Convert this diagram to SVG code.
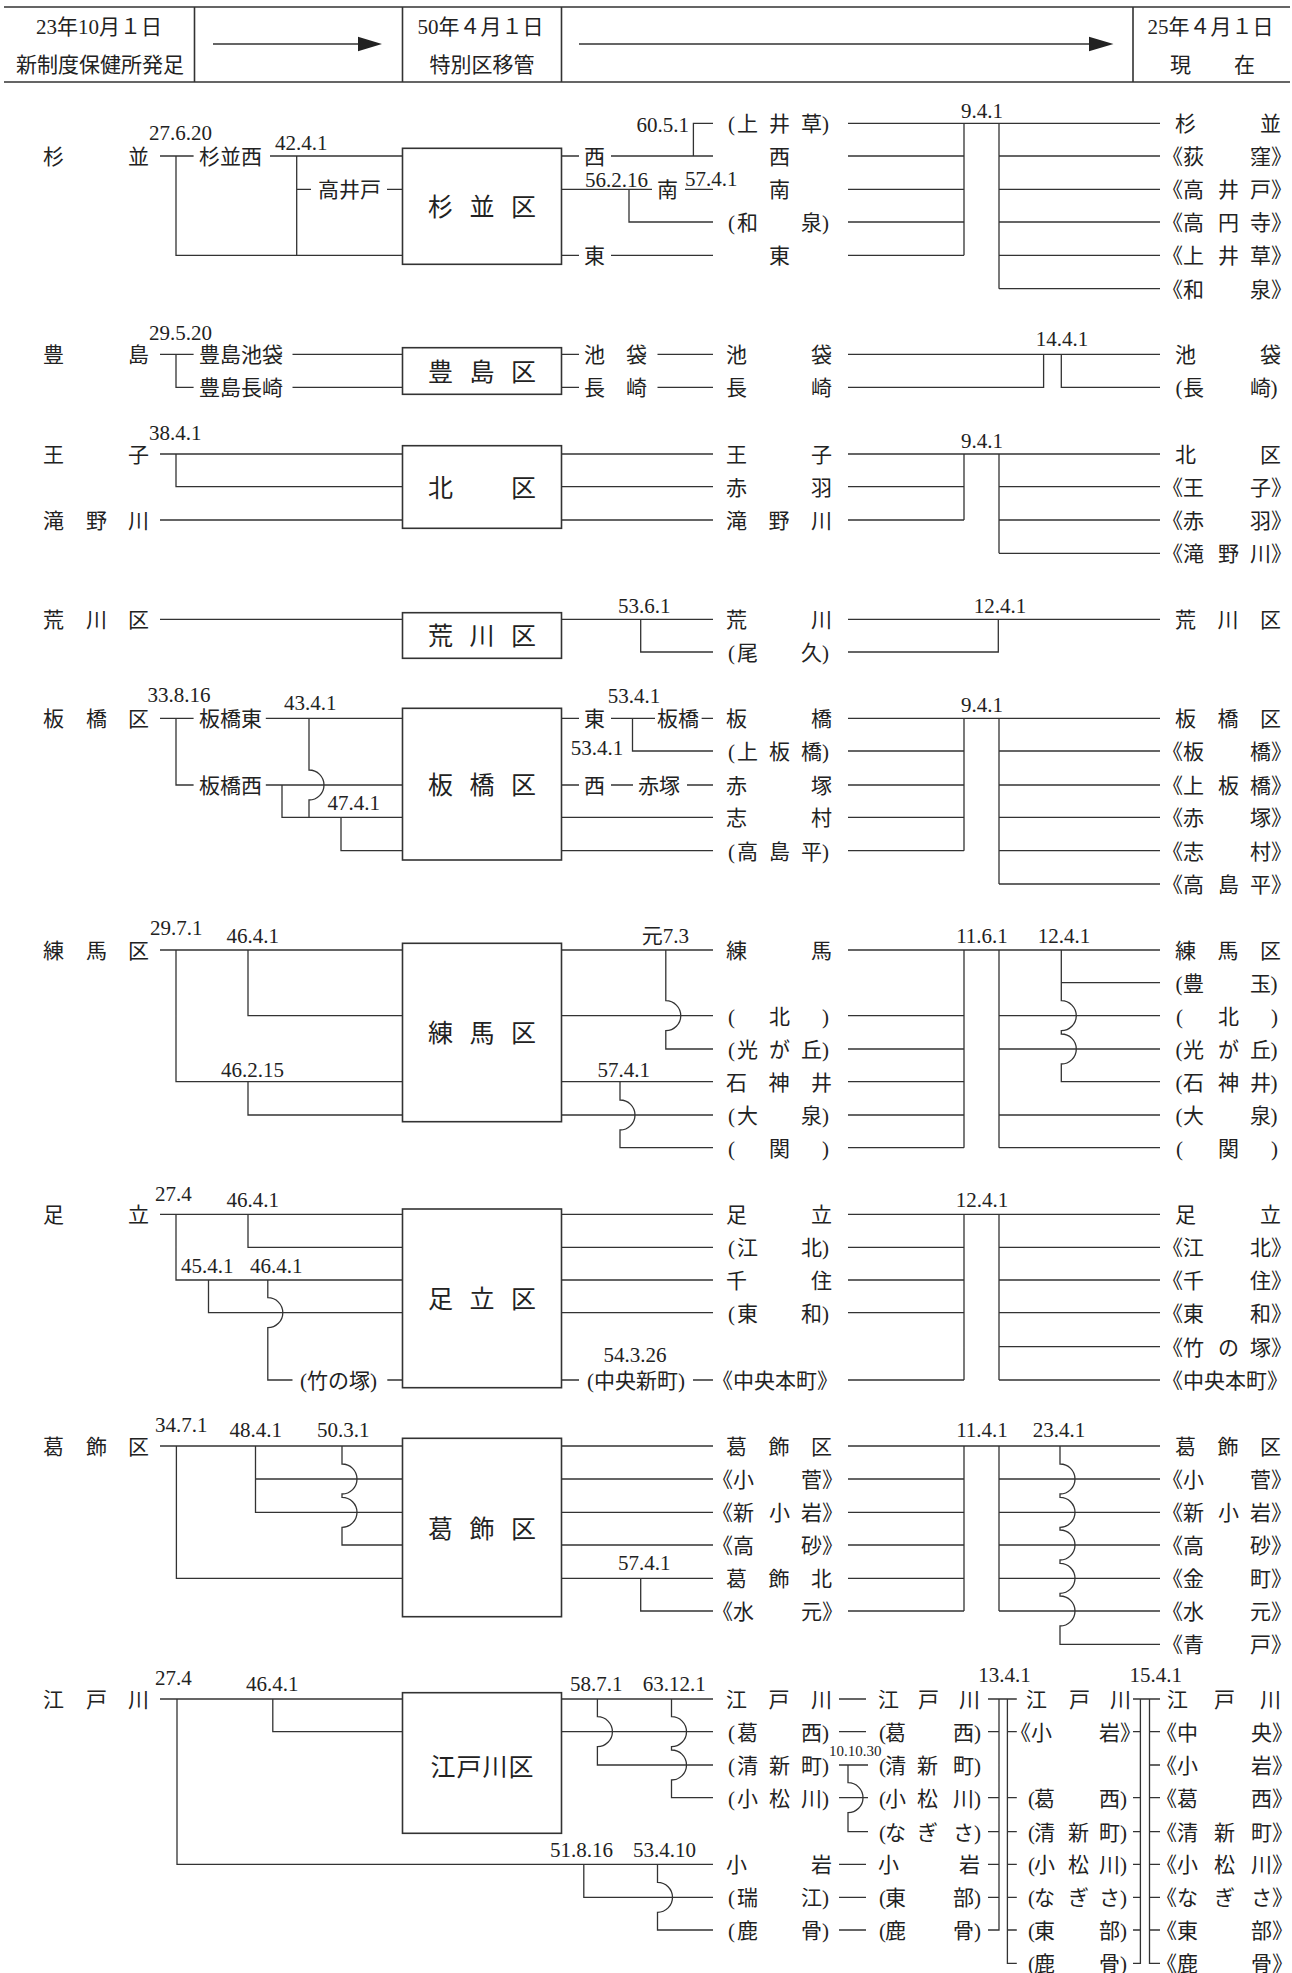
<svg xmlns="http://www.w3.org/2000/svg" width="1292" height="1973" viewBox="0 0 1292 1973">
<style>
text{font-family:'Liberation Serif','Noto Sans CJK JP',serif;font-size:21px;fill:#222}
.b{font-family:'Noto Sans CJK JP',sans-serif;font-size:25px}
.s{font-size:15px}
.c{text-anchor:middle}
.e{text-anchor:end}
.ln{fill:none;stroke:#333;stroke-width:1.3}
.bx{fill:#fff;stroke:#333;stroke-width:1.6}
.hd{fill:none;stroke:#333;stroke-width:1.6}
</style>
<rect width="1292" height="1973" fill="#fff"/>
<g id="header">
<path class="hd" d="M4,7H1290M4,82H1290M194.5,7V82M402.5,7V82M561.5,7V82M1133,7V82"/>
<path class="ln" d="M213,44H360M579,44H1091"/>
<path d="M358,36.8L382,44L358,51.2ZM1089,36.8L1113.5,44L1089,51.2Z" fill="#222"/>
<text class="c" x="99" y="34">23年10月１日</text>
<text class="c" x="100" y="72">新制度保健所発足</text>
<text class="c" x="480.5" y="34">50年４月１日</text>
<text class="c" x="482" y="72">特別区移管</text>
<text class="c" x="1210.5" y="34">25年４月１日</text>
<text y="72"><tspan x="1170">現</tspan><tspan x="1234">在</tspan></text>
</g>
<g id="connectors" class="ln">
<path d="M160,156H193.6M176,156V255.3H402.5M270,156H402.5M296.7,156V255.3M296.7,189.3H311M387,189.3H402.5M561.5,156H579M611,156H713M693.4,156V123.3H713M561.5,189.3H652M685,189.3H713M629,189.3V222H713M561.5,255.3H579M611,255.3H713M848,123.3H1160M848,156H964M848,189.3H964M848,222H964M848,255.3H964M964,123.3V255.3M999,123.3V288.7M999,156H1160M999,189.3H1160M999,222H1160M999,255.3H1160M999,288.7H1160"/>
<path d="M160,354.3H193.6M176,354.3V387.3H193.6M292.5,354.3H402.5M292.5,387.3H402.5M561.5,354.3H579M657.5,354.3H713M561.5,387.3H579M657.5,387.3H713M848,354.3H1160M848,387.3H1043.6V354.3M1061.3,354.3V387.3H1160"/>
<path d="M160,454H402.5M176,454V486.7H402.5M160,520H402.5M561.5,454H713M561.5,486.7H713M561.5,520H713M848,454H1160M848,486.7H964M848,520H964M964,454V520M999,454V553.3M999,486.7H1160M999,520H1160M999,553.3H1160"/>
<path d="M160,619.3H402.5M561.5,619.3H713M640.7,619.3V652H713M848,619.3H1160M848,652H998.3V619.3"/>
<path d="M160,718.3H193.6M176,718.3V785H193.6M265.8,718.3H402.5M265.8,785H402.5M309,718.3V770A15,15 0 0 1 309,800V817.3M282,785V817.3H402.5M341,817.3V850.7H402.5M561.5,718.3H579M611,718.3H655M701.6,718.3H713M632.5,718.3V751H713M561.5,785H579M611,785H633M687,785H713M561.5,817.3H713M561.5,850.7H713M848,718.3H1160M848,751H964M848,785H964M848,817.3H964M848,850.7H964M964,718.3V850.7M999,718.3V884M999,751H1160M999,785H1160M999,817.3H1160M999,850.7H1160M999,884H1160"/>
<path d="M160,950H402.5M176,950V1081.7H402.5M248,950V1015.7H402.5M248,1081.7V1115H402.5M561.5,950H713M665.8,950V1000.7A15,15 0 0 1 665.8,1030.7V1049H713M561.5,1015.7H713M561.5,1081.7H713M620,1081.7V1100A15,15 0 0 1 620,1130V1147.7H713M561.5,1115H713M848,950H1160M848,1015.7H964M848,1049H964M848,1081.7H964M848,1115H964M848,1147.7H964M964,950V1147.7M999,950V1147.7M999,1015.7H1160M999,1049H1160M999,1115H1160M999,1147.7H1160M1061.3,950V1000.7A15,15 0 0 1 1061.3,1030.7V1034A15,15 0 0 1 1061.3,1064V1081.7H1160M1061.3,982.7H1160"/>
<path d="M160,1214.3H402.5M176,1214.3V1280H402.5M248,1214.3V1247.3H402.5M208.5,1280V1312.7H402.5M267.8,1280V1297.7A15,15 0 0 1 267.8,1327.7V1380H292.5M387.3,1380H402.5M561.5,1214.3H713M561.5,1247.3H713M561.5,1280H713M561.5,1312.7H713M561.5,1380H579M693,1380H713M848,1214.3H1160M848,1247.3H964M848,1280H964M848,1312.7H964M848,1380H964M964,1214.3V1380M999,1214.3V1380M999,1247.3H1160M999,1280H1160M999,1312.7H1160M999,1346.7H1160M999,1380H1160"/>
<path d="M160,1446H402.5M176.4,1446V1578.3H402.5M255.5,1446V1512.3H402.5M255.5,1479H402.5M342,1446V1464A15,15 0 0 1 342,1494V1497.3A15,15 0 0 1 342,1527.3V1545H402.5M561.5,1446H713M561.5,1479H713M561.5,1512.3H713M561.5,1545H713M561.5,1578.3H713M640.7,1578.3V1611H713M848,1446H1160M848,1479H964M848,1512.3H964M848,1545H964M848,1578.3H964M848,1611H964M964,1446V1611M999,1446V1611M999,1479H1160M999,1512.3H1160M999,1545H1160M999,1578.3H1160M999,1611H1160M1060,1446V1464A15,15 0 0 1 1060,1494V1497.3A15,15 0 0 1 1060,1527.3V1530A15,15 0 0 1 1060,1560V1563.3A15,15 0 0 1 1060,1593.3V1596A15,15 0 0 1 1060,1626V1644.3H1160"/>
<path d="M160,1699H402.5M177,1699V1864.3H713M272.8,1699V1731.7H402.5M561.5,1699H713M561.5,1731.7H713M597.4,1699V1716.7A15,15 0 0 1 597.4,1746.7V1765H713M671.5,1699V1716.7A15,15 0 0 1 671.5,1746.7V1750A15,15 0 0 1 671.5,1780V1797.7H713M583.8,1864.3V1897.3H713M657.5,1864.3V1882.3A15,15 0 0 1 657.5,1912.3V1930H713M839,1699H866M839,1731.7H866M839,1765H868M839,1797.7H868M848,1765V1782.7A15,15 0 0 1 848,1812.7V1831.7H868M839,1864.3H866M839,1897.3H866M839,1930H866M988,1699H1016.8M999,1699V1930H988M988,1731.7H999M988,1797.7H999M988,1831.7H999M988,1864.3H999M988,1897.3H999M1007.4,1699V1963.3H1016.8M1007.4,1731.7H1016.8M1007.4,1797.7H1016.8M1007.4,1831.7H1016.8M1007.4,1864.3H1016.8M1007.4,1897.3H1016.8M1007.4,1930H1016.8M1133,1699H1160M1140.4,1699V1963.3H1133M1133,1731.7H1140.4M1133,1797.7H1140.4M1133,1831.7H1140.4M1133,1864.3H1140.4M1133,1897.3H1140.4M1133,1930H1140.4M1149.5,1699V1963.3H1160M1149.5,1731.7H1160M1149.5,1765H1160M1149.5,1797.7H1160M1149.5,1831.7H1160M1149.5,1864.3H1160M1149.5,1897.3H1160M1149.5,1930H1160"/>
</g>
<g id="suginami">
<rect class="bx" x="402.5" y="148.3" width="159" height="116"/>
<text class="b" y="216"><tspan x="428">杉</tspan><tspan x="469.5">並</tspan><tspan x="511">区</tspan></text>
<text y="164"><tspan x="43">杉</tspan><tspan x="128">並</tspan></text>
<text x="199" y="164">杉並西</text>
<text x="318" y="197.3">高井戸</text>
<text x="584" y="164">西</text>
<text x="657" y="197.3">南</text>
<text x="584" y="263.3">東</text>
<text y="131.3"><tspan x="728">(</tspan><tspan x="737">上</tspan><tspan x="769">井</tspan><tspan x="801">草</tspan><tspan x="822">)</tspan></text>
<text x="769" y="164">西</text>
<text x="769" y="197.3">南</text>
<text y="230"><tspan x="728">(</tspan><tspan x="737">和</tspan><tspan x="801">泉</tspan><tspan x="822">)</tspan></text>
<text x="769" y="263.3">東</text>
<text y="131.3"><tspan x="1175">杉</tspan><tspan x="1260">並</tspan></text>
<text y="164"><tspan x="1162">《荻</tspan><tspan x="1250">窪》</tspan></text>
<text y="197.3"><tspan x="1162">《高</tspan><tspan x="1218">井</tspan><tspan x="1250">戸》</tspan></text>
<text y="230"><tspan x="1162">《高</tspan><tspan x="1218">円</tspan><tspan x="1250">寺》</tspan></text>
<text y="263.3"><tspan x="1162">《上</tspan><tspan x="1218">井</tspan><tspan x="1250">草》</tspan></text>
<text y="296.7"><tspan x="1162">《和</tspan><tspan x="1250">泉》</tspan></text>
<text x="149" y="140">27.6.20</text>
<text x="275" y="150">42.4.1</text>
<text class="e" x="689" y="131.5">60.5.1</text>
<text x="585" y="186.5" font-size="20">56.2.16</text>
<text x="685" y="186" font-size="20">57.4.1</text>
<text class="c" x="982" y="118">9.4.1</text>
</g>
<g id="toshima">
<rect class="bx" x="402.5" y="347.7" width="159" height="46.6"/>
<text class="b" y="380.5"><tspan x="428">豊</tspan><tspan x="469.5">島</tspan><tspan x="511">区</tspan></text>
<text y="362.3"><tspan x="43">豊</tspan><tspan x="128">島</tspan></text>
<text x="199" y="362.3">豊島池袋</text>
<text x="199" y="395.3">豊島長崎</text>
<text y="362.3"><tspan x="584">池</tspan><tspan x="626">袋</tspan></text>
<text y="395.3"><tspan x="584">長</tspan><tspan x="626">崎</tspan></text>
<text y="362.3"><tspan x="726">池</tspan><tspan x="811">袋</tspan></text>
<text y="395.3"><tspan x="726">長</tspan><tspan x="811">崎</tspan></text>
<text y="362.3"><tspan x="1175">池</tspan><tspan x="1260">袋</tspan></text>
<text y="395.3"><tspan x="1175.5">(</tspan><tspan x="1183">長</tspan><tspan x="1250">崎</tspan><tspan x="1270.5">)</tspan></text>
<text x="149" y="340">29.5.20</text>
<text class="c" x="1062" y="346">14.4.1</text>
</g>
<g id="kita">
<rect class="bx" x="402.5" y="445.7" width="159" height="82.6"/>
<text class="b" y="496.5"><tspan x="428">北</tspan><tspan x="511">区</tspan></text>
<text y="462"><tspan x="43">王</tspan><tspan x="128">子</tspan></text>
<text y="528"><tspan x="43">滝</tspan><tspan x="86">野</tspan><tspan x="128">川</tspan></text>
<text y="462"><tspan x="726">王</tspan><tspan x="811">子</tspan></text>
<text y="494.7"><tspan x="726">赤</tspan><tspan x="811">羽</tspan></text>
<text y="528"><tspan x="726">滝</tspan><tspan x="768.5">野</tspan><tspan x="811">川</tspan></text>
<text y="462"><tspan x="1175">北</tspan><tspan x="1260">区</tspan></text>
<text y="494.7"><tspan x="1162">《王</tspan><tspan x="1250">子》</tspan></text>
<text y="528"><tspan x="1162">《赤</tspan><tspan x="1250">羽》</tspan></text>
<text y="561.3"><tspan x="1162">《滝</tspan><tspan x="1218">野</tspan><tspan x="1250">川》</tspan></text>
<text x="149" y="440">38.4.1</text>
<text class="c" x="982" y="448">9.4.1</text>
</g>
<g id="arakawa">
<rect class="bx" x="402.5" y="612.7" width="159" height="45.6"/>
<text class="b" y="645"><tspan x="428">荒</tspan><tspan x="469.5">川</tspan><tspan x="511">区</tspan></text>
<text y="627.3"><tspan x="43">荒</tspan><tspan x="86">川</tspan><tspan x="128">区</tspan></text>
<text y="627.3"><tspan x="726">荒</tspan><tspan x="811">川</tspan></text>
<text y="660"><tspan x="728">(</tspan><tspan x="737">尾</tspan><tspan x="801">久</tspan><tspan x="822">)</tspan></text>
<text y="627.3"><tspan x="1175">荒</tspan><tspan x="1217.5">川</tspan><tspan x="1260">区</tspan></text>
<text x="618" y="613">53.6.1</text>
<text class="c" x="1000" y="613">12.4.1</text>
</g>
<g id="itabashi">
<rect class="bx" x="402.5" y="708.3" width="159" height="151.7"/>
<text class="b" y="794"><tspan x="428">板</tspan><tspan x="469.5">橋</tspan><tspan x="511">区</tspan></text>
<text y="726.3"><tspan x="43">板</tspan><tspan x="86">橋</tspan><tspan x="128">区</tspan></text>
<text x="199" y="726.3">板橋東</text>
<text x="199" y="793">板橋西</text>
<text x="584" y="726.3">東</text>
<text x="657" y="726.3">板橋</text>
<text x="584" y="793">西</text>
<text x="638" y="793">赤塚</text>
<text y="726.3"><tspan x="726">板</tspan><tspan x="811">橋</tspan></text>
<text y="759"><tspan x="728">(</tspan><tspan x="737">上</tspan><tspan x="769">板</tspan><tspan x="801">橋</tspan><tspan x="822">)</tspan></text>
<text y="793"><tspan x="726">赤</tspan><tspan x="811">塚</tspan></text>
<text y="825.3"><tspan x="726">志</tspan><tspan x="811">村</tspan></text>
<text y="858.7"><tspan x="728">(</tspan><tspan x="737">高</tspan><tspan x="769">島</tspan><tspan x="801">平</tspan><tspan x="822">)</tspan></text>
<text y="726.3"><tspan x="1175">板</tspan><tspan x="1217.5">橋</tspan><tspan x="1260">区</tspan></text>
<text y="759"><tspan x="1162">《板</tspan><tspan x="1250">橋》</tspan></text>
<text y="793"><tspan x="1162">《上</tspan><tspan x="1218">板</tspan><tspan x="1250">橋》</tspan></text>
<text y="825.3"><tspan x="1162">《赤</tspan><tspan x="1250">塚》</tspan></text>
<text y="858.7"><tspan x="1162">《志</tspan><tspan x="1250">村》</tspan></text>
<text y="892"><tspan x="1162">《高</tspan><tspan x="1218">島</tspan><tspan x="1250">平》</tspan></text>
<text x="147.5" y="702">33.8.16</text>
<text x="284" y="710">43.4.1</text>
<text x="327.5" y="810">47.4.1</text>
<text x="607.7" y="703">53.4.1</text>
<text x="570.7" y="755">53.4.1</text>
<text class="c" x="982" y="712">9.4.1</text>
</g>
<g id="nerima">
<rect class="bx" x="402.5" y="943.3" width="159" height="178.4"/>
<text class="b" y="1042"><tspan x="428">練</tspan><tspan x="469.5">馬</tspan><tspan x="511">区</tspan></text>
<text y="958"><tspan x="43">練</tspan><tspan x="86">馬</tspan><tspan x="128">区</tspan></text>
<text y="958"><tspan x="726">練</tspan><tspan x="811">馬</tspan></text>
<text y="1023.7"><tspan x="728">(</tspan><tspan x="769">北</tspan><tspan x="822">)</tspan></text>
<text y="1057"><tspan x="728">(</tspan><tspan x="737">光</tspan><tspan x="769">が</tspan><tspan x="801">丘</tspan><tspan x="822">)</tspan></text>
<text y="1089.7"><tspan x="726">石</tspan><tspan x="768.5">神</tspan><tspan x="811">井</tspan></text>
<text y="1123"><tspan x="728">(</tspan><tspan x="737">大</tspan><tspan x="801">泉</tspan><tspan x="822">)</tspan></text>
<text y="1155.7"><tspan x="728">(</tspan><tspan x="769">関</tspan><tspan x="822">)</tspan></text>
<text y="958"><tspan x="1175">練</tspan><tspan x="1217.5">馬</tspan><tspan x="1260">区</tspan></text>
<text y="990.7"><tspan x="1175.5">(</tspan><tspan x="1183">豊</tspan><tspan x="1250">玉</tspan><tspan x="1270.5">)</tspan></text>
<text y="1023.7"><tspan x="1176">(</tspan><tspan x="1218">北</tspan><tspan x="1271">)</tspan></text>
<text y="1057"><tspan x="1175.5">(</tspan><tspan x="1183">光</tspan><tspan x="1218">が</tspan><tspan x="1250">丘</tspan><tspan x="1270.5">)</tspan></text>
<text y="1089.7"><tspan x="1175.5">(</tspan><tspan x="1183">石</tspan><tspan x="1218">神</tspan><tspan x="1250">井</tspan><tspan x="1270.5">)</tspan></text>
<text y="1123"><tspan x="1175.5">(</tspan><tspan x="1183">大</tspan><tspan x="1250">泉</tspan><tspan x="1270.5">)</tspan></text>
<text y="1155.7"><tspan x="1176">(</tspan><tspan x="1218">関</tspan><tspan x="1271">)</tspan></text>
<text x="150" y="935">29.7.1</text>
<text x="226.6" y="943">46.4.1</text>
<text x="221" y="1076.7">46.2.15</text>
<text class="e" x="689" y="943">元7.3</text>
<text x="597.5" y="1076.7">57.4.1</text>
<text class="c" x="982" y="943">11.6.1</text>
<text class="c" x="1064" y="943">12.4.1</text>
</g>
<g id="adachi">
<rect class="bx" x="402.5" y="1209" width="159" height="178.7"/>
<text class="b" y="1307.5"><tspan x="428">足</tspan><tspan x="469.5">立</tspan><tspan x="511">区</tspan></text>
<text y="1222.3"><tspan x="43">足</tspan><tspan x="128">立</tspan></text>
<text x="300" y="1388">(竹の塚)</text>
<text x="587" y="1388">(中央新町)</text>
<text y="1222.3"><tspan x="726">足</tspan><tspan x="811">立</tspan></text>
<text y="1255.3"><tspan x="728">(</tspan><tspan x="737">江</tspan><tspan x="801">北</tspan><tspan x="822">)</tspan></text>
<text y="1288"><tspan x="726">千</tspan><tspan x="811">住</tspan></text>
<text y="1320.7"><tspan x="728">(</tspan><tspan x="737">東</tspan><tspan x="801">和</tspan><tspan x="822">)</tspan></text>
<text x="712" y="1388">《中央本町》</text>
<text y="1222.3"><tspan x="1175">足</tspan><tspan x="1260">立</tspan></text>
<text y="1255.3"><tspan x="1162">《江</tspan><tspan x="1250">北》</tspan></text>
<text y="1288"><tspan x="1162">《千</tspan><tspan x="1250">住》</tspan></text>
<text y="1320.7"><tspan x="1162">《東</tspan><tspan x="1250">和》</tspan></text>
<text y="1354.7"><tspan x="1162">《竹</tspan><tspan x="1218">の</tspan><tspan x="1250">塚》</tspan></text>
<text x="1162" y="1388">《中央本町》</text>
<text x="155" y="1201">27.4</text>
<text x="226.6" y="1206.7">46.4.1</text>
<text x="181" y="1273.3">45.4.1</text>
<text x="250" y="1273.3">46.4.1</text>
<text x="603.6" y="1361.7">54.3.26</text>
<text class="c" x="982" y="1206.7">12.4.1</text>
</g>
<g id="katsushika">
<rect class="bx" x="402.5" y="1438.3" width="159" height="178.4"/>
<text class="b" y="1538"><tspan x="428">葛</tspan><tspan x="469.5">飾</tspan><tspan x="511">区</tspan></text>
<text y="1454"><tspan x="43">葛</tspan><tspan x="86">飾</tspan><tspan x="128">区</tspan></text>
<text y="1454"><tspan x="726">葛</tspan><tspan x="768.5">飾</tspan><tspan x="811">区</tspan></text>
<text y="1487"><tspan x="712">《小</tspan><tspan x="801">菅》</tspan></text>
<text y="1520.3"><tspan x="712">《新</tspan><tspan x="769">小</tspan><tspan x="801">岩》</tspan></text>
<text y="1553"><tspan x="712">《高</tspan><tspan x="801">砂》</tspan></text>
<text y="1586.3"><tspan x="726">葛</tspan><tspan x="768.5">飾</tspan><tspan x="811">北</tspan></text>
<text y="1619"><tspan x="712">《水</tspan><tspan x="801">元》</tspan></text>
<text y="1454"><tspan x="1175">葛</tspan><tspan x="1217.5">飾</tspan><tspan x="1260">区</tspan></text>
<text y="1487"><tspan x="1162">《小</tspan><tspan x="1250">菅》</tspan></text>
<text y="1520.3"><tspan x="1162">《新</tspan><tspan x="1218">小</tspan><tspan x="1250">岩》</tspan></text>
<text y="1553"><tspan x="1162">《高</tspan><tspan x="1250">砂》</tspan></text>
<text y="1586.3"><tspan x="1162">《金</tspan><tspan x="1250">町》</tspan></text>
<text y="1619"><tspan x="1162">《水</tspan><tspan x="1250">元》</tspan></text>
<text y="1652.3"><tspan x="1162">《青</tspan><tspan x="1250">戸》</tspan></text>
<text x="155" y="1431.7">34.7.1</text>
<text x="229.5" y="1436.7">48.4.1</text>
<text x="317" y="1436.7">50.3.1</text>
<text x="618" y="1570">57.4.1</text>
<text class="c" x="982" y="1436.7">11.4.1</text>
<text class="c" x="1059" y="1436.7">23.4.1</text>
</g>
<g id="edogawa">
<rect class="bx" x="402.5" y="1692.7" width="159" height="140.6"/>
<text class="b" x="430.6" y="1776" textLength="103" lengthAdjust="spacing">江戸川区</text>
<text y="1707"><tspan x="43">江</tspan><tspan x="86">戸</tspan><tspan x="128">川</tspan></text>
<text y="1707"><tspan x="726">江</tspan><tspan x="768.5">戸</tspan><tspan x="811">川</tspan></text>
<text y="1739.7"><tspan x="728">(</tspan><tspan x="737">葛</tspan><tspan x="801">西</tspan><tspan x="822">)</tspan></text>
<text y="1773"><tspan x="728">(</tspan><tspan x="737">清</tspan><tspan x="769">新</tspan><tspan x="801">町</tspan><tspan x="822">)</tspan></text>
<text y="1805.7"><tspan x="728">(</tspan><tspan x="737">小</tspan><tspan x="769">松</tspan><tspan x="801">川</tspan><tspan x="822">)</tspan></text>
<text y="1872.3"><tspan x="726">小</tspan><tspan x="811">岩</tspan></text>
<text y="1905.3"><tspan x="728">(</tspan><tspan x="737">瑞</tspan><tspan x="801">江</tspan><tspan x="822">)</tspan></text>
<text y="1938"><tspan x="728">(</tspan><tspan x="737">鹿</tspan><tspan x="801">骨</tspan><tspan x="822">)</tspan></text>
<text y="1707"><tspan x="878">江</tspan><tspan x="918">戸</tspan><tspan x="959">川</tspan></text>
<text y="1739.7"><tspan x="879">(</tspan><tspan x="885">葛</tspan><tspan x="953">西</tspan><tspan x="974">)</tspan></text>
<text y="1773"><tspan x="879">(</tspan><tspan x="885">清</tspan><tspan x="917">新</tspan><tspan x="953">町</tspan><tspan x="974">)</tspan></text>
<text y="1805.7"><tspan x="879">(</tspan><tspan x="885">小</tspan><tspan x="917">松</tspan><tspan x="953">川</tspan><tspan x="974">)</tspan></text>
<text y="1839.7"><tspan x="879">(</tspan><tspan x="885">な</tspan><tspan x="917">ぎ</tspan><tspan x="953">さ</tspan><tspan x="974">)</tspan></text>
<text y="1872.3"><tspan x="878">小</tspan><tspan x="959">岩</tspan></text>
<text y="1905.3"><tspan x="879">(</tspan><tspan x="885">東</tspan><tspan x="953">部</tspan><tspan x="974">)</tspan></text>
<text y="1938"><tspan x="879">(</tspan><tspan x="885">鹿</tspan><tspan x="953">骨</tspan><tspan x="974">)</tspan></text>
<text y="1707"><tspan x="1026">江</tspan><tspan x="1069">戸</tspan><tspan x="1110">川</tspan></text>
<text y="1739.7"><tspan x="1010">《小</tspan><tspan x="1099">岩》</tspan></text>
<text y="1805.7"><tspan x="1028">(</tspan><tspan x="1034">葛</tspan><tspan x="1099">西</tspan><tspan x="1120">)</tspan></text>
<text y="1839.7"><tspan x="1028">(</tspan><tspan x="1034">清</tspan><tspan x="1068">新</tspan><tspan x="1099">町</tspan><tspan x="1120">)</tspan></text>
<text y="1872.3"><tspan x="1028">(</tspan><tspan x="1034">小</tspan><tspan x="1068">松</tspan><tspan x="1099">川</tspan><tspan x="1120">)</tspan></text>
<text y="1905.3"><tspan x="1028">(</tspan><tspan x="1034">な</tspan><tspan x="1068">ぎ</tspan><tspan x="1099">さ</tspan><tspan x="1120">)</tspan></text>
<text y="1938"><tspan x="1028">(</tspan><tspan x="1034">東</tspan><tspan x="1099">部</tspan><tspan x="1120">)</tspan></text>
<text y="1971.3"><tspan x="1028">(</tspan><tspan x="1034">鹿</tspan><tspan x="1099">骨</tspan><tspan x="1120">)</tspan></text>
<text y="1707"><tspan x="1167">江</tspan><tspan x="1214">戸</tspan><tspan x="1260">川</tspan></text>
<text y="1739.7"><tspan x="1156">《中</tspan><tspan x="1251">央》</tspan></text>
<text y="1773"><tspan x="1156">《小</tspan><tspan x="1251">岩》</tspan></text>
<text y="1805.7"><tspan x="1156">《葛</tspan><tspan x="1251">西》</tspan></text>
<text y="1839.7"><tspan x="1156">《清</tspan><tspan x="1214">新</tspan><tspan x="1251">町》</tspan></text>
<text y="1872.3"><tspan x="1156">《小</tspan><tspan x="1214">松</tspan><tspan x="1251">川》</tspan></text>
<text y="1905.3"><tspan x="1156">《な</tspan><tspan x="1214">ぎ</tspan><tspan x="1251">さ》</tspan></text>
<text y="1938"><tspan x="1156">《東</tspan><tspan x="1251">部》</tspan></text>
<text y="1971.3"><tspan x="1156">《鹿</tspan><tspan x="1251">骨》</tspan></text>
<text x="155" y="1685">27.4</text>
<text x="246" y="1690.7">46.4.1</text>
<text x="570" y="1690.7">58.7.1</text>
<text x="642.7" y="1690.7">63.12.1</text>
<text x="550" y="1857.3">51.8.16</text>
<text x="633" y="1857.3">53.4.10</text>
<text class="s" x="829" y="1756">10.10.30</text>
<text class="c" x="1004.5" y="1681.7">13.4.1</text>
<text class="c" x="1155.7" y="1681.7">15.4.1</text>
</g>
</svg>
